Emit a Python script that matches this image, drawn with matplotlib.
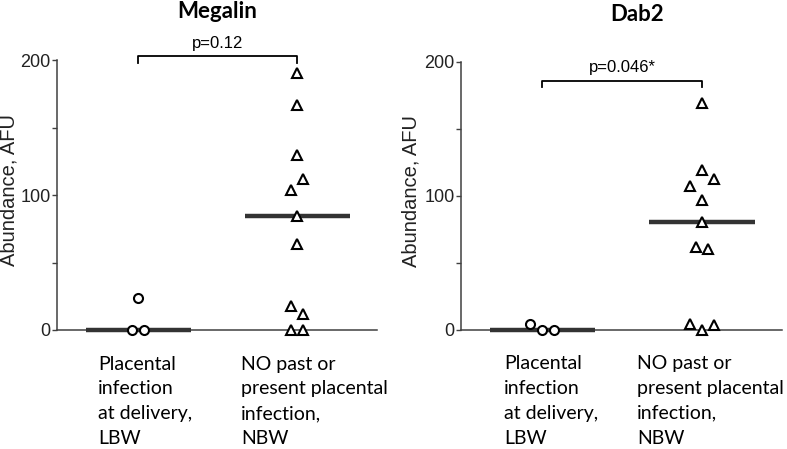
import numpy as np
import matplotlib
matplotlib.use("Agg")
import matplotlib.pyplot as plt

# values (AFU)
megalin_lbw = [23.7, 0, 0]
megalin_nbw = [190.6, 167, 130, 104, 111.6, 84.7, 64, 17.8, 11.9, 0, 0]
dab2_lbw = [4.5, 0, 0]
dab2_nbw = [169.6, 107.5, 119.4, 112.5, 97, 80.8, 61.7, 60.2, 4.5, 0, 3.5]

titles = ["Megalin", "Dab2"]
pvals = ["p=0.12", "p=0.046*"]
groups = ["Placental\ninfection\nat delivery,\nLBW",
          "NO past or\npresent placental\ninfection,\nNBW"]

TXT = ["Lato", "DejaVu Sans"]
NUM = ["Liberation Sans", "DejaVu Sans"]


def dodge(vals, thresh=8.0, step=0.075):
    # spread points that sit close together, symmetric around the group centre
    vals = np.asarray(vals, dtype=float)
    order = sorted(range(len(vals)), key=lambda i: -vals[i])
    off = np.zeros(len(vals))
    clusters, cur = [], [order[0]]
    for i in order[1:]:
        if vals[cur[-1]] - vals[i] < thresh:
            cur.append(i)
        else:
            clusters.append(cur)
            cur = [i]
    clusters.append(cur)
    for c in clusters:
        c = sorted(c)
        n = len(c)
        for k, i in enumerate(c):
            off[i] = (k - (n - 1) / 2) * step
    return off


def panel(ax, lbw, nbw, title, ptxt, bracket_y, title_x, ylab_x, lab_x):
    for i, (vals, mk, ms) in enumerate([(lbw, "o", 6.5), (nbw, "^", 7.3)]):
        x = i + dodge(vals)
        ax.plot(x, vals, linestyle="none", marker=mk, ms=ms, mfc="white",
                mec="black", mew=1.5, clip_on=False, zorder=4)
        med = np.median(vals)
        ax.plot([i - 0.33, i + 0.33], [med, med], color="#333333", lw=3.2,
                solid_capstyle="butt", clip_on=False, zorder=3)

    ax.set_xlim(-0.51, 1.5)
    ax.set_ylim(0, 200)
    ax.set_yticks([0, 50, 100, 150, 200])
    ax.set_yticklabels(["0", "", "100", "", "200"], family=NUM, fontsize=13,
                       color="#222222")
    ax.set_xticks([])
    for s in ["top", "right"]:
        ax.spines[s].set_visible(False)
    for s in ["left", "bottom"]:
        ax.spines[s].set_color("#404040")
        ax.spines[s].set_linewidth(1.1)
    ax.tick_params(axis="y", length=3.5, width=1, color="#404040", pad=1)

    ax.set_ylabel("Abundance, AFU", family=NUM, fontsize=14.5, color="#222222")
    ax.yaxis.set_label_coords(ylab_x, 0.52)

    # significance bracket
    h = 5
    ax.plot([0, 0, 1, 1], [bracket_y - h, bracket_y, bracket_y, bracket_y - h],
            color="black", lw=1.3, clip_on=False)
    ax.text(0.5, bracket_y + 4, ptxt, ha="center", va="bottom",
            family=NUM, fontsize=12)

    ax.text(title_x, 1.178, title, transform=ax.transAxes, ha="center",
            va="center", family=TXT, fontsize=16, fontweight="bold")

    for g, lx in zip(groups, lab_x):
        ax.text(lx, -0.095, g, transform=ax.transAxes, ha="left", va="top",
                family=TXT, fontsize=14, linespacing=1.55)


fig = plt.figure(figsize=(7.87, 4.49), dpi=100)
ax1 = fig.add_axes([57 / 787, 119 / 449, 320 / 787, 270 / 449])
ax2 = fig.add_axes([461 / 787, 119 / 449, 321 / 787, 268 / 449])

panel(ax1, megalin_lbw, megalin_nbw, titles[0], pvals[0], 203, 0.5, -0.119,
      [0.128, 0.575])
panel(ax2, dab2_lbw, dab2_nbw, titles[1], pvals[1], 186, 0.55, -0.125,
      [0.134, 0.548])

fig.savefig("out.png", dpi=100)
